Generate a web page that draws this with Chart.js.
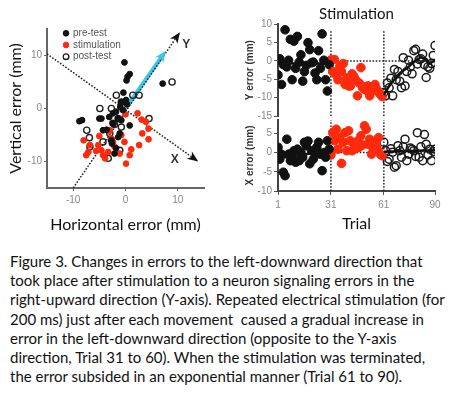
<!DOCTYPE html>
<html><head><meta charset="utf-8">
<script src="https://cdn.jsdelivr.net/npm/chart.js@4.4.1/dist/chart.umd.min.js"></script>
<style>
html,body{margin:0;padding:0;background:#fff;width:456px;height:395px;overflow:hidden;position:relative}
.c{position:absolute}
#caption{position:absolute;left:10px;top:252px;font-family:Lato;font-size:15px;line-height:19.2px;white-space:pre;color:#111}
</style></head><body>
<div class="c" style="left:0;top:0;width:230px;height:236px"><canvas id="c1"></canvas></div>
<div class="c" style="left:230px;top:0;width:226px;height:124px"><canvas id="c2"></canvas></div>
<div class="c" style="left:230px;top:112px;width:226px;height:123px"><canvas id="c3"></canvas></div>
<div id="caption"></div>
<script>
// ---------- DATA: left scatter (horizontal error, vertical error) ----------
const preTest = [[-0.2,8.7],[0.4,6.0],[0.8,6.5],[0.2,5.3],[7.1,4.7],[-0.4,3.0],[-0.8,1.2],[0.1,1.6],[-1.0,0.3],[-1.8,-0.6],[-2.4,-0.9],[-3.1,-1.6],[-4.6,-1.9],[-5.0,-1.9],[-8.3,-2.2],[-8.8,-2.4],[-1.4,-1.9],[-0.8,-2.2],[-2.4,-2.8],[0.8,-3.2],[-4.3,-4.1],[-3.6,-4.0],[-1.1,-4.7],[-1.4,-5.4],[-2.7,-6.0],[-1.8,-7.5],[-2.1,-8.5],[-2.6,-6.6],[0.3,0.8],[-0.5,-0.3]];
const stimulation = [[0.0,-1.1],[2.3,-0.9],[3.1,-2.1],[3.9,-2.5],[4.4,-3.8],[3.2,-4.7],[4.4,-5.8],[2.6,-6.9],[1.1,-7.7],[-0.2,-6.3],[-0.8,-5.0],[0.8,-8.8],[0.1,-10.4],[-2.7,-5.7],[-3.0,-4.1],[-5.0,-5.2],[-5.2,-6.9],[-8.0,-6.0],[-6.8,-6.9],[-7.5,-8.8],[-7.1,-8.2],[-4.6,-7.9],[-4.3,-8.8],[-3.9,-9.4],[-3.3,-8.2],[-2.1,-7.2],[-1.1,-8.5],[-2.4,-6.3],[-5.6,-8.0],[-3.1,-4.3]];
const postTest = [[8.9,5.0],[-1.75,2.5],[-0.8,1.2],[1.4,2.5],[2.6,2.5],[-4.9,0.0],[-2.7,0.0],[-1.4,-1.9],[-2.4,-2.8],[-0.8,-3.5],[4.5,-1.9],[-7.4,-4.1],[-6.9,-5.5],[-6.8,-7.2],[-4.3,-6.3],[-2.7,-5.9],[-3.3,-9.4],[-1.1,-7.9],[-2.1,-3.0],[-3.0,-4.7]];
const xDirLine = [[-15,10.3],[13.9,-10.0]];
const yDirLine = [[-10,-15],[10.4,14.4]];
const cyanArrow = [[0,0],[7.0,9.9]];
const dirLetters = [{t:'X',x:9.4,y:-9.6},{t:'Y',x:11.6,y:12.1}];
const leftTicks = [-10,0,10];

// ---------- DATA: right charts (per trial) ----------
const preY  = [-3.8,0.6,-6.4,-1.0,8.5,-1.6,0.2,5.9,-5.1,5.4,-2.0,6.7,-0.3,1.7,-5.5,-2.9,-1.2,5.0,3.1,-0.5,-0.3,-3.3,-5.1,2.8,-2.0,7.4,0.2,-5.1,-8.2,-1.0];
const stimY = [0.3,-2.9,0.4,-3.8,-5.1,-1.5,-2.9,-0.7,-6.4,-4.7,-6.8,-6.8,-3.5,-4.2,-5.1,-9.5,-6.0,-1.8,-7.3,-7.7,-8.0,-6.8,-9.5,-8.2,-7.0,-6.4,-7.7,-8.5,-9.1,-9.7];
const postY = [-8.6,-9.5,-6.0,-7.3,-4.7,-9.5,-2.3,-5.1,-2.9,-5.5,-7.3,0.9,-6.8,-2.9,0.2,-1.6,-3.5,2.8,3.2,-0.8,0.4,0.6,1.9,-1.0,-4.5,-1.6,-2.0,-0.7,1.5,4.2];
const preX  = [1.4,-1.7,-0.4,-5.1,-6.0,3.5,-0.4,-2.1,-1.0,0.5,-2.5,0.9,-2.1,0.1,-1.2,2.7,1.8,3.0,-2.9,0.5,-1.7,0.1,1.4,2.7,-0.4,-4.7,0.0,-1.2,3.1,0.9];
const stimX = [-0.6,5.2,3.1,6.1,0.9,4.0,-2.8,2.7,5.2,0.5,5.7,3.1,0.5,2.2,1.0,3.0,1.4,4.4,2.0,7.0,6.1,2.2,3.5,-0.4,0.9,2.7,1.5,3.9,-0.4,-0.8];
const postX = [2.7,0.5,-2.3,-1.7,1.0,0.1,-3.8,-3.4,1.8,0.5,-1.2,1.5,3.5,-2.1,-0.4,1.2,0.9,0.5,-1.0,5.2,-1.2,1.5,-2.1,4.7,2.2,-0.6,0.9,-2.1,0.3,0.9];
// fitted lines [trial, value]
const preFitY  = [[1,-0.7],[30,-0.7]];
const stimFitY = [[31,-1.8],[60,-8.4]];
const postFitY = [[61,-9.3],[64,-6.8],[67,-5.0],[70,-3.3],[74,-2.0],[78,-0.3],[82,1.0],[85,0.6],[87,-0.7],[90,0.2]];
const preFitX  = [[1,-1.5],[30,0.5]];
const stimFitX = [[31,3.1],[60,0.9]];
const postFitX = [[61,0.2],[90,0.6]];
const phaseBounds = [31,61];
const yTicksTop = [-15,-10,-5,0,5,10];
const yTicksBottom = [-10,-5,0,5];
const trialTicks = [1,31,61,90];

const captionLines = [
 "Figure 3. Changes in errors to the left-downward direction that",
 "took place after stimulation to a neuron signaling errors in the",
 "right-upward direction (Y-axis). Repeated electrical stimulation (for",
 "200 ms) just after each movement  caused a gradual increase in",
 "error in the left-downward direction (opposite to the Y-axis",
 "direction, Trial 31 to 60). When the stimulation was terminated,",
 "the error subsided in an exponential manner (Trial 61 to 90)."
];

// ---------- helpers ----------
const RED = '#ff2a0c', BLK = '#111111';
const pts = a => a.map(p => ({x:p[0], y:p[1]}));
const trialPts = (vals, start) => vals.map((v,i) => ({x:start+i, y:v}));
Chart.defaults.font.family = "'Liberation Sans', Arial, sans-serif";
Chart.defaults.animation = false;
Chart.defaults.events = [];
const TITLE_FONT = "Lato";

const arrowPlugin = {
  id:'arrows',
  afterDatasetsDraw(chart){
    const {ctx, scales:{x,y}} = chart;
    chart.data.datasets.forEach(ds => {
      if(!ds.arrowHead) return;
      const n = ds.data.length, p1 = ds.data[n-2], p2 = ds.data[n-1];
      const x1=x.getPixelForValue(p1.x), y1=y.getPixelForValue(p1.y);
      const x2=x.getPixelForValue(p2.x), y2=y.getPixelForValue(p2.y);
      const a = Math.atan2(y2-y1, x2-x1);
      const {len, wid, color, ext} = ds.arrowHead;
      ctx.save(); ctx.translate(x2,y2); ctx.rotate(a); ctx.translate(ext,0);
      ctx.beginPath(); ctx.moveTo(0,0); ctx.lineTo(-len,-wid/2); ctx.lineTo(-len*0.72,0); ctx.lineTo(-len,wid/2); ctx.closePath();
      ctx.fillStyle = color; ctx.fill(); ctx.restore();
    });
    const letters = chart.options.plugins.arrows && chart.options.plugins.arrows.letters;
    if (letters) {
      ctx.save(); ctx.font = "bold 12px 'Liberation Sans', Arial"; ctx.fillStyle = '#333';
      ctx.textAlign='center'; ctx.textBaseline='middle';
      letters.forEach(l => ctx.fillText(l.t, x.getPixelForValue(l.x), y.getPixelForValue(l.y)));
      ctx.restore();
    }
  }
};
const legendShift = {
  id:'legendShift',
  afterLayout(chart, args, opts){
    if(!chart.legend) return;
    chart.legend.left = chart.chartArea.left + opts.dx;
    chart.legend.top = chart.chartArea.top + opts.dy;
  }
};

const tickFont = {family:"'Liberation Sans', Arial", size:10};
const dotted = (data, extra) => Object.assign({type:'line', data, borderColor:'#222', borderWidth:1.5, borderDash:[1.6,1.6], pointRadius:0, fill:false, tension:0}, extra||{});

// ---------- chart 1 ----------
new Chart(document.getElementById('c1'), {
  type:'scatter',
  data:{datasets:[
    {label:'pre-test', data:pts(preTest), pointRadius:2.9, backgroundColor:BLK, borderColor:BLK, borderWidth:1},
    {label:'stimulation', data:pts(stimulation), pointRadius:2.9, backgroundColor:RED, borderColor:RED, borderWidth:1},
    {label:'post-test', data:pts(postTest), pointRadius:3.1, backgroundColor:'rgba(0,0,0,0)', borderColor:'#222', borderWidth:1.4},
    dotted(pts(xDirLine), {label:'xdir', arrowHead:{len:11, wid:9, color:'#111', ext:0}}),
    dotted(pts(yDirLine), {label:'ydir', arrowHead:{len:11, wid:9, color:'#111', ext:0}}),
    {type:'line', label:'cyan', data:pts(cyanArrow), borderColor:'#3cc6ee', borderWidth:4, pointRadius:0, fill:false, arrowHead:{len:11, wid:10, color:'#3cc6ee', ext:6}}
  ]},
  options:{
    responsive:true, maintainAspectRatio:false,
    layout:{padding:{top:29, right:26, left:0, bottom:0}},
    plugins:{
      legend:{position:'chartArea', align:'start', labels:{usePointStyle:true, boxWidth:4, boxHeight:4, padding:1.7, font:{family:"'Liberation Sans', Arial", size:10}, color:'#555', filter:(it)=>it.datasetIndex<3}},
      tooltip:{enabled:false},
      legendShift:{dx:15.3, dy:-2.4},
      arrows:{letters:dirLetters}
    },
    scales:{
      x:{type:'linear', min:-15, max:15,
         afterBuildTicks:s=>{s.ticks = leftTicks.map(v=>({value:v}));},
         afterFit:s=>{s.height=48;},
         grid:{drawOnChartArea:false, drawTicks:true, tickLength:3, color:'#666'},
         border:{color:'#666', width:2},
         ticks:{font:tickFont, color:'#888', padding:3},
         title:{display:true, text:'Horizontal error (mm)', font:{family:TITLE_FONT, size:16}, color:'#111', padding:{top:0,bottom:2}}},
      y:{type:'linear', min:-15, max:15,
         afterBuildTicks:s=>{s.ticks = leftTicks.map(v=>({value:v}));},
         afterFit:s=>{s.width=47;},
         grid:{drawOnChartArea:false, drawTicks:true, tickLength:3, color:'#666'},
         border:{color:'#666', width:2},
         ticks:{font:tickFont, color:'#888', padding:2},
         title:{display:true, text:'Vertical error (mm)', font:{family:TITLE_FONT, size:16}, color:'#111', padding:{top:6,bottom:0}}}
    }
  },
  plugins:[arrowPlugin, legendShift]
});

// ---------- right charts ----------
function rightChart(id, cfg){
  return new Chart(document.getElementById(id), {
    type:'scatter',
    data:{datasets:[
      {type:'line', data:pts(cfg.preFit), borderColor:BLK, borderWidth:2.5, pointRadius:0, fill:false},
      {type:'line', data:pts(cfg.stimFit), borderColor:RED, borderWidth:2.5, pointRadius:0, fill:false},
      {type:'line', data:pts(cfg.postFit), borderColor:BLK, borderWidth:2.5, pointRadius:0, fill:false},
      {data:trialPts(cfg.pre,1), pointRadius:4.3, backgroundColor:BLK, borderColor:BLK, borderWidth:1},
      {data:trialPts(cfg.stim,31), pointRadius:4.3, backgroundColor:RED, borderColor:RED, borderWidth:1},
      {data:trialPts(cfg.post,61), pointRadius:4, backgroundColor:'rgba(0,0,0,0)', borderColor:'#1a1a1a', borderWidth:1.5},
      dotted([{x:phaseBounds[0], y:cfg.vmin},{x:phaseBounds[0], y:cfg.vtop}]),
      dotted([{x:phaseBounds[1], y:cfg.vmin},{x:phaseBounds[1], y:cfg.vtop}]),
      dotted([{x:phaseBounds[0], y:0},{x:90, y:0}])
    ]},
    options:{
      responsive:true, maintainAspectRatio:false,
      layout:{padding:cfg.padding},
      plugins:{legend:{display:false}, tooltip:{enabled:false},
        title:cfg.title ? {display:true, text:cfg.title, fullSize:false, font:{family:TITLE_FONT, size:15, weight:'normal'}, color:'#111', padding:{top:5, bottom:1.3}} : {display:false}},
      scales:{
        x:{type:'linear', min:1, max:90, display:cfg.showX,
           afterBuildTicks:s=>{s.ticks = trialTicks.map(v=>({value:v}));},
           afterFit:s=>{s.height = cfg.showX ? 44 : 0;},
           grid:{drawOnChartArea:false, drawTicks:true, tickLength:4, color:'#555'},
           border:{color:'#444', width:2},
           ticks:{font:tickFont, color:'#888', padding:4},
           title:{display:true, text:'Trial', font:{family:TITLE_FONT, size:16}, color:'#111', padding:{top:0,bottom:2}}},
        y:{type:'linear', min:cfg.vmin, max:cfg.vmax,
           afterBuildTicks:s=>{s.ticks = cfg.yticks.map(v=>({value:v}));},
           afterFit:s=>{s.width=48;},
           grid:{drawOnChartArea:false, drawTicks:true, tickLength:4, color:'#555'},
           border:{color:'#444', width:2},
           ticks:{font:tickFont, color:'#888', padding:2},
           title:{display:true, text:cfg.ytitle, font:{family:"'Liberation Sans', Arial", size:10, weight:'bold'}, color:'#333', padding:{top:14,bottom:0}}}
      }
    }
  });
}
rightChart('c2', {pre:preY, stim:stimY, post:postY, preFit:preFitY, stimFit:stimFitY, postFit:postFitY,
  vmin:-15, vmax:10, vtop:8.5, yticks:yTicksTop, ytitle:'Y error (mm)', title:'Stimulation', showX:false,
  padding:{top:0, right:21, left:0, bottom:5}});
rightChart('c3', {pre:preX, stim:stimX, post:postX, preFit:preFitX, stimFit:stimFitX, postFit:postFitX,
  vmin:-10, vmax:8.5, vtop:8.5, yticks:yTicksBottom, ytitle:'X error (mm)', title:null, showX:true,
  padding:{top:8, right:21, left:0, bottom:0}});

// ---------- caption ----------
const cap = document.getElementById('caption');
cap.textContent = captionLines.join('\n');
</script>
</body></html>
